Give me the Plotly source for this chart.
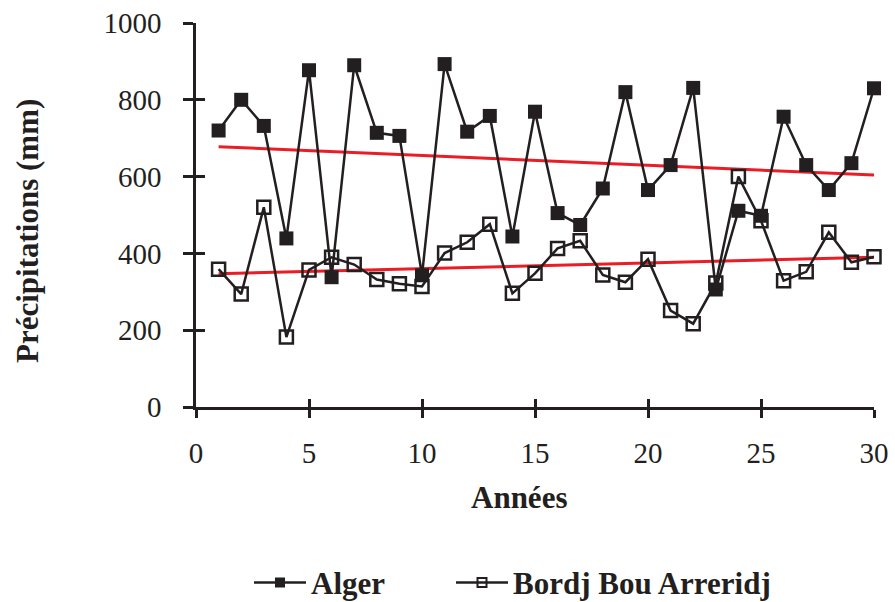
import plotly.graph_objects as go

years = list(range(1, 31))
alger = [720, 800, 732, 439, 877, 338, 890, 714, 706, 343,
         893, 717, 758, 444, 769, 505, 474, 569, 820, 565,
         630, 831, 306, 511, 498, 756, 630, 565, 635, 830]
bordj = [359, 294, 520, 182, 357, 390, 371, 332, 321, 314,
         401, 429, 476, 296, 348, 413, 433, 344, 325, 385,
         251, 217, 323, 600, 485, 329, 352, 455, 377, 391]
trend_x = [1, 30]
trend_alger = [678, 604]
trend_bordj = [347, 390]

INK = "#231f20"
RED = "#ec1c24"
FONT = "Liberation Serif, Times New Roman, serif"
BOLD = 31
W, H = 895, 602
ML, MR, MT, MB = 196, 21, 23, 195
PW, PH = W - ML - MR, H - MT - MB

fig = go.Figure()
fig.add_trace(go.Scatter(x=trend_x, y=trend_alger, mode="lines", cliponaxis=False,
                         line=dict(color=RED, width=3), showlegend=False, hoverinfo="skip"))
fig.add_trace(go.Scatter(x=trend_x, y=trend_bordj, mode="lines", cliponaxis=False,
                         line=dict(color=RED, width=3), showlegend=False, hoverinfo="skip"))
fig.add_trace(go.Scatter(x=years, y=alger, mode="lines+markers", name="Alger",
                         line=dict(color=INK, width=2.5), showlegend=False, cliponaxis=False,
                         marker=dict(symbol="square", size=14, color=INK)))
fig.add_trace(go.Scatter(x=years, y=bordj, mode="lines+markers", name="Bordj Bou Arreridj",
                         line=dict(color=INK, width=2.5), showlegend=False, cliponaxis=False,
                         marker=dict(symbol="square-open", size=13, color=INK,
                                     line=dict(width=2.5, color=INK))))
# legend entries (smaller symbols, as in the reference), one legend each
fig.add_trace(go.Scatter(x=[None], y=[None], mode="lines+markers", name="Alger",
                         line=dict(color=INK, width=2.5), legend="legend",
                         marker=dict(symbol="square", size=10, color=INK)))
fig.add_trace(go.Scatter(x=[None], y=[None], mode="lines+markers", name="Bordj Bou Arreridj",
                         line=dict(color=INK, width=2.5), legend="legend2",
                         marker=dict(symbol="square-open", size=9, color=INK,
                                     line=dict(width=2, color=INK))))
# overlay axes for crossing ticks
fig.add_trace(go.Scatter(x=[None], y=[None], xaxis="x2", yaxis="y2", showlegend=False))

legend_common = dict(orientation="h", xref="container", yref="container",
                     xanchor="left", yanchor="middle", y=0.032,
                     font=dict(family=FONT, size=BOLD, color=INK, weight="bold"),
                     itemwidth=52, bgcolor="rgba(0,0,0,0)")

fig.update_layout(
    width=W, height=H,
    margin=dict(l=ML, r=MR, t=MT, b=MB, autoexpand=False),
    paper_bgcolor="white", plot_bgcolor="white",
    font=dict(family=FONT, color=INK, size=29),
    showlegend=True,
    legend=dict(x=249 / W, **legend_common),
    legend2=dict(x=451 / W, **legend_common),
    xaxis=dict(range=[0, 30], tickvals=[0, 5, 10, 15, 20, 25, 30], automargin=False,
               showgrid=False, zeroline=False, showline=True, linecolor=INK, linewidth=2.5,
               ticks="outside", ticklen=8, tickwidth=2.5, tickcolor=INK,
               ticklabelstandoff=10),
    yaxis=dict(range=[0, 1000], tickvals=[0, 200, 400, 600, 800, 1000], automargin=False,
               showgrid=False, zeroline=False, showline=True, linecolor=INK, linewidth=2.5,
               ticks="outside", ticklen=10, tickwidth=2.5, tickcolor=INK,
               ticklabelstandoff=16),
    xaxis2=dict(range=[0, 30], tickvals=[0, 5, 10, 15, 20, 25, 30], overlaying="x",
                showgrid=False, zeroline=False, showline=False, showticklabels=False,
                ticks="inside", ticklen=8, tickwidth=2.5, tickcolor=INK),
    yaxis2=dict(range=[0, 1000], tickvals=[0, 200, 400, 600, 800, 1000], overlaying="y",
                showgrid=False, zeroline=False, showline=False, showticklabels=False,
                ticks="inside", ticklen=9, tickwidth=2.5, tickcolor=INK),
    annotations=[
        dict(text="Années", xref="paper", yref="paper",
             x=(519 - ML) / PW, y=-(497 - (MT + PH)) / PH,
             xanchor="center", yanchor="middle", showarrow=False,
             font=dict(family=FONT, size=BOLD, weight="bold", color=INK)),
        dict(text="Précipitations (mm)", xref="paper", yref="paper",
             x=-(ML - 27) / PW, y=((MT + PH) - 231) / PH, textangle=-90,
             xanchor="center", yanchor="middle", showarrow=False,
             font=dict(family=FONT, size=BOLD, weight="bold", color=INK)),
    ],
)

fig.write_html("out.html")
